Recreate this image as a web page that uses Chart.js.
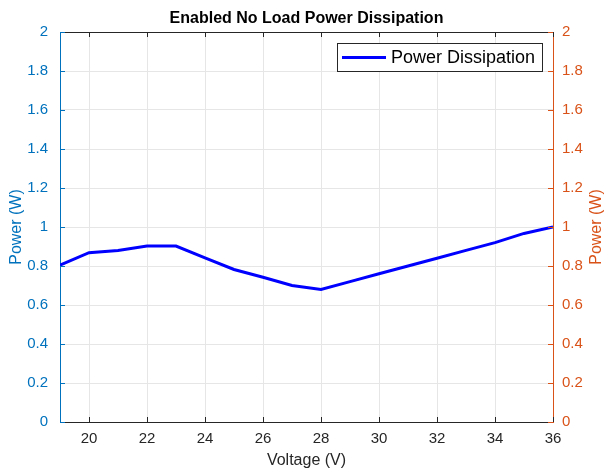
<!DOCTYPE html>
<html>
<head>
<meta charset="utf-8">
<script src="https://cdn.jsdelivr.net/npm/chart.js@4.4.1/dist/chart.umd.min.js"></script>
<style>
html,body{margin:0;padding:0;background:#fff;}
#wrap{width:609px;height:470px;position:relative;}
</style>
</head>
<body>
<div id="wrap"><canvas id="c" width="609" height="470"></canvas></div>
<script>
const voltage = [19, 20, 21, 22, 23, 24, 25, 26, 27, 28, 29, 30, 31, 32, 33, 34, 35, 36];
const powerW  = [0.805, 0.868, 0.88, 0.902, 0.902, 0.842, 0.782, 0.742, 0.70, 0.68, 0.72, 0.76, 0.80, 0.84, 0.88, 0.92, 0.967, 1.0];
const xTicks = [20, 22, 24, 26, 28, 30, 32, 34, 36];
const yTicks = [0, 0.2, 0.4, 0.6, 0.8, 1, 1.2, 1.4, 1.6, 1.8, 2];
const chartTitle = 'Enabled No Load Power Dissipation';
const seriesLabel = 'Power Dissipation';
const xLabel = 'Voltage (V)';
const yLabel = 'Power (W)';

const BLUE_AX = '#0072BD';
const ORANGE_AX = '#D95319';
const DARK = '#262626';
const GRID = '#e6e6e6';
const FONT = "'Liberation Sans', Arial, Helvetica, sans-serif";

const setTicks = (vals) => (axis) => { axis.ticks = vals.map(v => ({value: v})); };

const decor = {
  id: 'decor',
  afterDraw(chart) {
    const ctx = chart.ctx;
    const a = chart.chartArea;
    const xs = chart.scales.x, ys = chart.scales.y;
    ctx.save();
    // top border
    ctx.strokeStyle = DARK; ctx.lineWidth = 1;
    ctx.beginPath(); ctx.moveTo(a.left, a.top + 0.5); ctx.lineTo(a.right, a.top + 0.5); ctx.stroke();
    // inward x ticks
    const tl = 5;
    ctx.beginPath();
    xTicks.forEach(v => {
      const px = Math.round(xs.getPixelForValue(v)) + 0.5;
      ctx.moveTo(px, a.bottom); ctx.lineTo(px, a.bottom - tl);
      ctx.moveTo(px, a.top); ctx.lineTo(px, a.top + tl);
    });
    ctx.stroke();
    // left ticks
    ctx.strokeStyle = BLUE_AX;
    ctx.beginPath();
    yTicks.forEach(v => {
      const py = Math.round(ys.getPixelForValue(v)) + 0.5;
      ctx.moveTo(a.left, py); ctx.lineTo(a.left + tl, py);
    });
    ctx.stroke();
    // right ticks
    ctx.strokeStyle = ORANGE_AX;
    ctx.beginPath();
    yTicks.forEach(v => {
      const py = Math.round(chart.scales.y2.getPixelForValue(v)) + 0.5;
      ctx.moveTo(a.right, py); ctx.lineTo(a.right - tl, py);
    });
    ctx.stroke();
    // right axis title (reads bottom-to-top, like MATLAB)
    ctx.save();
    ctx.translate(597, (a.top + a.bottom) / 2);
    ctx.rotate(-Math.PI / 2);
    ctx.fillStyle = ORANGE_AX;
    ctx.font = '16px ' + FONT;
    ctx.textAlign = 'center'; ctx.textBaseline = 'middle';
    ctx.fillText(yLabel, 0, 0);
    ctx.restore();
    // title
    ctx.fillStyle = '#000';
    ctx.font = 'bold 16px ' + FONT;
    ctx.textAlign = 'center'; ctx.textBaseline = 'middle';
    ctx.fillText(chartTitle, (a.left + a.right) / 2, 19);
    // legend
    const ds = chart.data.datasets[0];
    const bw = 205, bh = 28;
    const bx = a.right - 11 - bw, by = a.top + 11;
    ctx.fillStyle = '#fff';
    ctx.fillRect(bx, by, bw, bh);
    ctx.strokeStyle = DARK; ctx.lineWidth = 1;
    ctx.strokeRect(Math.round(bx) + 0.5, Math.round(by) + 0.5, bw, bh);
    ctx.strokeStyle = ds.borderColor; ctx.lineWidth = 3;
    ctx.beginPath(); ctx.moveTo(bx + 5, by + bh / 2 + 0.5); ctx.lineTo(bx + 49, by + bh / 2 + 0.5); ctx.stroke();
    ctx.fillStyle = '#000';
    ctx.font = '18px ' + FONT;
    ctx.textAlign = 'left'; ctx.textBaseline = 'middle';
    ctx.fillText(ds.label, bx + 54, by + bh / 2 + 1);
    ctx.restore();
  }
};

new Chart(document.getElementById('c'), {
  type: 'line',
  data: {
    labels: voltage,
    datasets: [{
      label: seriesLabel,
      data: voltage.map((v, i) => ({x: v, y: powerW[i]})),
      borderColor: '#0000FF',
      borderWidth: 3,
      pointRadius: 0,
      tension: 0,
      yAxisID: 'y'
    }]
  },
  options: {
    responsive: false,
    animation: false,
    events: [],
    layout: { padding: { top: 32, left: 0, right: 0, bottom: 0 } },
    plugins: { legend: { display: false }, title: { display: false }, tooltip: { enabled: false } },
    scales: {
      x: {
        type: 'linear', min: 19, max: 36,
        afterBuildTicks: setTicks(xTicks),
        afterFit: s => { s.height = 48; },
        grid: { color: GRID, drawTicks: false },
        border: { color: DARK, width: 1 },
        ticks: { color: DARK, font: { family: FONT, size: 15 }, padding: 8, maxRotation: 0 },
        title: { display: true, text: xLabel, color: DARK, font: { family: FONT, size: 16 }, padding: { top: 0, bottom: 0 } }
      },
      y: {
        type: 'linear', position: 'left', min: 0, max: 2,
        afterBuildTicks: setTicks(yTicks),
        afterFit: s => { s.width = 60; },
        grid: { color: GRID, drawTicks: false },
        border: { color: BLUE_AX, width: 1 },
        ticks: { color: BLUE_AX, font: { family: FONT, size: 15 }, padding: 12, callback: v => String(v) },
        title: { display: true, text: yLabel, color: BLUE_AX, font: { family: FONT, size: 16 }, padding: { top: 7, bottom: 0 } }
      },
      y2: {
        type: 'linear', position: 'right', min: 0, max: 2,
        afterBuildTicks: setTicks(yTicks),
        afterFit: s => { s.width = 56; },
        grid: { display: false, drawTicks: false },
        border: { color: ORANGE_AX, width: 1 },
        ticks: { color: ORANGE_AX, font: { family: FONT, size: 15 }, padding: 9, callback: v => String(v) },
        title: { display: false }
      }
    }
  },
  plugins: [decor]
});
</script>
</body>
</html>
